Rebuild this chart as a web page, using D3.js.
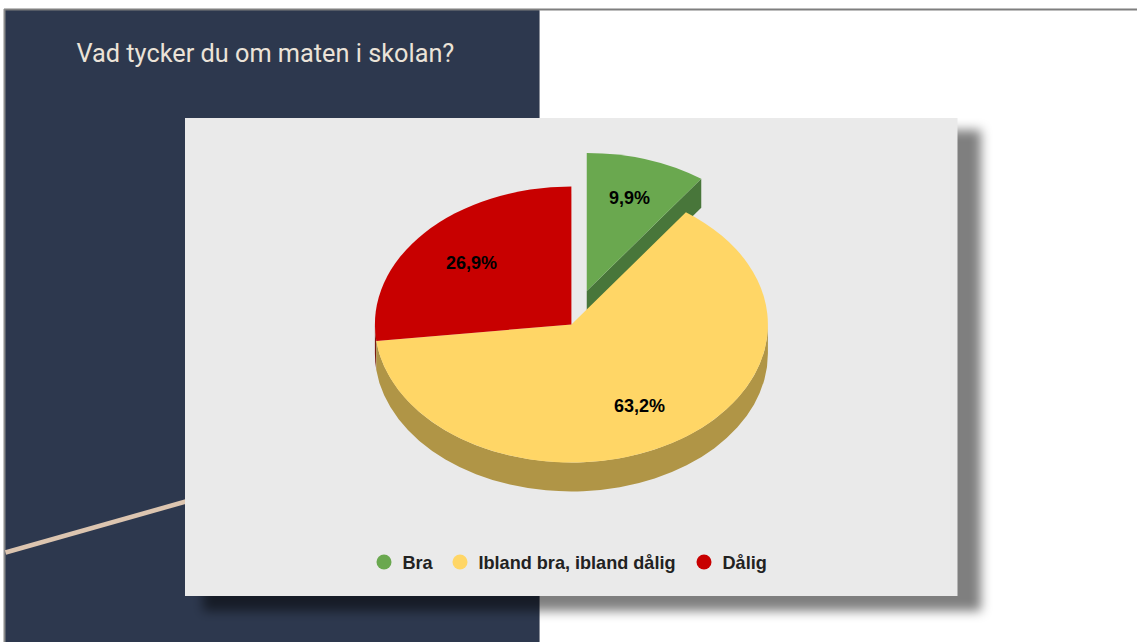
<!DOCTYPE html>
<html><head><meta charset="utf-8">
<style>html,body{margin:0;padding:0;background:#fff;overflow:hidden}svg{display:block}</style>
<script src="https://cdn.jsdelivr.net/npm/d3@7"></script></head>
<body><div id="chart"></div>
<script>
const title = "Vad tycker du om maten i skolan?";
const categories = ["Bra", "Ibland bra, ibland dålig", "Dålig"];
const values = [9.9, 63.2, 26.9];
const labels = ["9,9%", "63,2%", "26,9%"];
const topColors = ["#6aa84f", "#ffd666", "#c80000"];
const sideColors = ["#48763a", "#b09546", "#7a1a10"];
const exploded = [true, false, false];

const W = 1137, H = 642;
const cx = 571.4, cy = 324.5, rx = 196.5, ry = 138, depth = 29;
const explode = 0.255, labelRatio = 0.68, explodedLabelExtra = 0.03;

const svg = d3.select("#chart").append("svg").attr("width", W).attr("height", H);
const defs = svg.append("defs");
defs.append("filter").attr("id","sh").attr("x","-10%").attr("y","-10%").attr("width","120%").attr("height","120%")
  .append("feGaussianBlur").attr("stdDeviation", 5.5);

// slide background
svg.append("rect").attr("width",W).attr("height",H).attr("fill","#fff");
svg.append("rect").attr("x",5).attr("y",10).attr("width",534).attr("height",H-10).attr("fill","#2d384e");
svg.append("line").attr("x1",4).attr("x2",W).attr("y1",9.5).attr("y2",9.5).attr("stroke","#7f7f7f").attr("stroke-width",2);
svg.append("line").attr("x1",4.5).attr("x2",4.5).attr("y1",9).attr("y2",H).attr("stroke","#8a8a8a").attr("stroke-width",2);
svg.append("line").attr("x1",539.5).attr("x2",539.5).attr("y1",10).attr("y2",H).attr("stroke","#8a8f9a").attr("stroke-width",1);
svg.append("line").attr("x1",5.5).attr("y1",552.5).attr("x2",200).attr("y2",497.5).attr("stroke","#dcc5b0").attr("stroke-width",4.6);
svg.append("text").attr("x",76.5).attr("y",62).attr("font-family","Roboto").attr("font-size",25.3)
  .attr("fill","#ebe3d8").text(title);

// card
svg.append("rect").attr("x",203).attr("y",130).attr("width",778).attr("height",481)
  .attr("fill","#000").attr("fill-opacity",0.5).attr("filter","url(#sh)");
svg.append("rect").attr("x",185).attr("y",118).attr("width",772.5).attr("height",478).attr("fill","#eaeaea");

// pie
const arcs = d3.pie().sort(null).value(d => d)(values);
const px = a => rx * Math.sin(a), py = a => -ry * Math.cos(a);
const origin = i => exploded[i]
  ? { x: cx + explode * px((arcs[i].startAngle + arcs[i].endAngle) / 2),
      y: cy + explode * py((arcs[i].startAngle + arcs[i].endAngle) / 2) }
  : { x: cx, y: cy };
const ell = (a, b, dy = 0) => `A${rx},${ry} 0 ${Math.abs(b - a) > Math.PI ? 1 : 0} ${b > a ? 1 : 0} ${px(b)},${py(b) + dy}`;
const g = svg.append("g");

// outer wall of a slice (only the front half of the rim is visible)
function wall(i) {
  const a = Math.max(arcs[i].startAngle, Math.PI / 2), b = Math.min(arcs[i].endAngle, 3 * Math.PI / 2);
  if (b <= a) return;
  const o = origin(i);
  g.append("path").attr("transform", `translate(${o.x},${o.y})`).attr("fill", sideColors[i])
    .attr("d", `M${px(a)},${py(a)} ${ell(a, b)} L${px(b)},${py(b) + depth} ${ell(b, a, depth)} Z`);
}
// cut face running from the apex to the rim at the slice's end angle
function cut(i) {
  const o = origin(i), e = arcs[i].endAngle;
  g.append("path").attr("transform", `translate(${o.x},${o.y})`).attr("fill", sideColors[i])
    .attr("d", `M0,0 L${px(e)},${py(e)} L${px(e)},${py(e) + depth} L0,${depth} Z`);
}
cut(0);
[2, 1].forEach(wall);
arcs.forEach((d, i) => {
  const o = origin(i);
  g.append("path").attr("transform", `translate(${o.x},${o.y})`).attr("fill", topColors[i])
    .attr("d", `M0,0 L${px(d.startAngle)},${py(d.startAngle)} ${ell(d.startAngle, d.endAngle)} Z`);
});
arcs.forEach((d, i) => {
  const m = (d.startAngle + d.endAngle) / 2;
  const k = labelRatio + (exploded[i] ? explode + explodedLabelExtra : 0);
  g.append("text").attr("x", cx + k * px(m)).attr("y", cy + k * py(m) + 6.5)
    .attr("text-anchor", "middle").attr("font-family", "Liberation Sans").attr("font-weight", "bold")
    .attr("font-size", 18).attr("fill", "#000").text(labels[i]);
});

// legend
const swatchX = [384, 460, 704];
const legend = svg.append("g");
categories.forEach((c, i) => {
  legend.append("circle").attr("cx", swatchX[i]).attr("cy", 562).attr("r", 7.5).attr("fill", topColors[i]);
  legend.append("text").attr("x", swatchX[i] + 18.5).attr("y", 568.5).attr("font-family", "Liberation Sans")
    .attr("font-weight", "bold").attr("font-size", 18.1).attr("fill", "#222").text(c);
});
</script></body></html>
